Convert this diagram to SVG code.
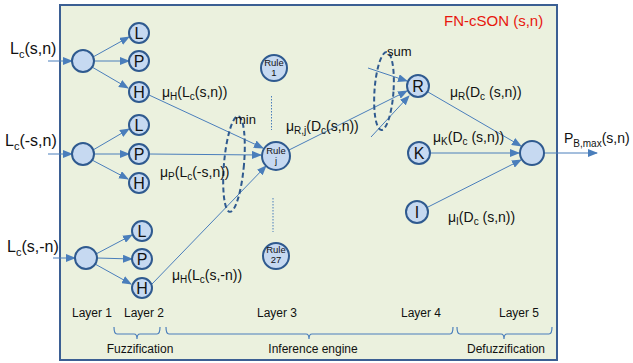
<svg xmlns="http://www.w3.org/2000/svg" width="633" height="363" viewBox="0 0 633 363">
<style>
text{font-family:"Liberation Sans",Arial,sans-serif;fill:#111}
.n{fill:#c6d9f1;stroke:#2f5a8f;stroke-width:2}
.e{stroke:#4a7ebb;stroke-width:1;fill:none}
.lbl{font-size:14px}
.in{font-size:16px}
.nl{font-size:16px;text-anchor:middle}
.rl{font-size:9.5px;text-anchor:middle}
.lay{font-size:12px}
.br{stroke:#4a7ebb;stroke-width:1.2;fill:none}
.el{fill:none;stroke:#2f5a8f;stroke-width:2;stroke-dasharray:5 3}
.dot{stroke:#4a7ebb;stroke-width:1;stroke-dasharray:1.5 1.5}
</style>
<defs>
<marker id="a" markerUnits="userSpaceOnUse" markerWidth="10" markerHeight="8" refX="9" refY="4" orient="auto">
<path d="M0,0 L10,4 L0,8 Z" fill="#4a7ebb"/>
</marker>
</defs>
<rect x="0" y="0" width="633" height="363" fill="#fff"/>
<rect id="box" x="60" y="5" width="497" height="355" fill="#ebf1de" stroke="#3b5f93" stroke-width="2"/>
<text x="444" y="26" font-size="15" style="fill:#e8170e">FN-cSON (s,n)</text>

<g id="connectors">
<line class="e" x1="48" y1="61" x2="72" y2="61" marker-end="url(#a)"/>
<line class="e" x1="48" y1="154" x2="72" y2="154" marker-end="url(#a)"/>
<line class="e" x1="53" y1="258" x2="75" y2="258" marker-end="url(#a)"/>
<line class="e" x1="93" y1="57" x2="129" y2="37" marker-end="url(#a)"/>
<line class="e" x1="94" y1="61" x2="129" y2="61" marker-end="url(#a)"/>
<line class="e" x1="92" y1="67" x2="128" y2="88" marker-end="url(#a)"/>
<line class="e" x1="93" y1="150" x2="129" y2="129" marker-end="url(#a)"/>
<line class="e" x1="94" y1="154" x2="129" y2="154" marker-end="url(#a)"/>
<line class="e" x1="92" y1="160" x2="128" y2="179" marker-end="url(#a)"/>
<line class="e" x1="96" y1="254" x2="132" y2="235" marker-end="url(#a)"/>
<line class="e" x1="97" y1="258" x2="132" y2="259" marker-end="url(#a)"/>
<line class="e" x1="95" y1="264" x2="131" y2="284" marker-end="url(#a)"/>
<line class="e" x1="149" y1="95" x2="263" y2="148" marker-end="url(#a)"/>
<line class="e" x1="149" y1="154" x2="261" y2="155" marker-end="url(#a)"/>
<line class="e" x1="152" y1="284" x2="266" y2="166" marker-end="url(#a)"/>
<line class="e" x1="289" y1="150" x2="407" y2="91" marker-end="url(#a)"/>
<line class="e" x1="368" y1="68" x2="407" y2="81" marker-end="url(#a)"/>
<line class="e" x1="371" y1="137" x2="409" y2="96" marker-end="url(#a)"/>
<line class="e" x1="428" y1="92" x2="521" y2="146" marker-end="url(#a)"/>
<line class="e" x1="430" y1="153" x2="519" y2="153" marker-end="url(#a)"/>
<line class="e" x1="428" y1="207" x2="521" y2="160" marker-end="url(#a)"/>
<line class="e" x1="544" y1="153" x2="597" y2="153" marker-end="url(#a)"/>
<line class="dot" x1="271.5" y1="96" x2="271.5" y2="130"/>
<line class="dot" x1="273" y1="198" x2="273" y2="232"/>
</g>

<g id="inputs">
<text class="in" x="10" y="54">L<tspan font-size="11" dy="4">c</tspan><tspan dy="-4">(s,n)</tspan></text>
<text class="in" x="5" y="146">L<tspan font-size="11" dy="4">c</tspan><tspan dy="-4">(-s,n)</tspan></text>
<text class="in" x="7" y="252">L<tspan font-size="11" dy="4">c</tspan><tspan dy="-4">(s,-n)</tspan></text>
</g>

<g id="layer1">
<circle class="n" cx="83" cy="61" r="11"/>
<circle class="n" cx="83" cy="154" r="11"/>
<circle class="n" cx="86" cy="258" r="11"/>
</g>

<g id="layer2">
<g id="L1"><circle class="n" cx="139" cy="33" r="10"/><text class="nl" x="139" y="39">L</text></g>
<g id="P1"><circle class="n" cx="139" cy="61" r="10"/><text class="nl" x="139" y="67">P</text></g>
<g id="H1"><circle class="n" cx="139" cy="92" r="10"/><text class="nl" x="139" y="98">H</text></g>
<g id="L2"><circle class="n" cx="139" cy="125" r="10"/><text class="nl" x="139" y="131">L</text></g>
<g id="P2"><circle class="n" cx="139" cy="154" r="10"/><text class="nl" x="139" y="160">P</text></g>
<g id="H2"><circle class="n" cx="139" cy="183" r="10"/><text class="nl" x="139" y="189">H</text></g>
<g id="L3"><circle class="n" cx="142" cy="231" r="10"/><text class="nl" x="142" y="237">L</text></g>
<g id="P3"><circle class="n" cx="142" cy="259" r="10"/><text class="nl" x="142" y="265">P</text></g>
<g id="H3"><circle class="n" cx="142" cy="288" r="10"/><text class="nl" x="142" y="294">H</text></g>
</g>

<g id="layer3">
<g id="rule1"><circle class="n" cx="274" cy="68" r="13"/><text class="rl" x="274" y="66">Rule</text><text class="rl" x="274" y="76">1</text></g>
<g id="rulej"><circle class="n" cx="276" cy="156" r="14"/><text class="rl" x="276" y="154">Rule</text><text class="rl" x="276" y="164">j</text></g>
<g id="rule27"><circle class="n" cx="276" cy="256" r="13"/><text class="rl" x="276" y="253">Rule</text><text class="rl" x="276" y="263">27</text></g>
</g>

<g id="layer4">
<g id="R"><circle class="n" cx="418" cy="86" r="11"/><text class="nl" x="418" y="92">R</text></g>
<g id="K"><circle class="n" cx="419" cy="153" r="11"/><text class="nl" x="419" y="159">K</text></g>
<g id="I"><circle class="n" cx="417" cy="212" r="11"/><text class="nl" x="417" y="218">I</text></g>
</g>

<g id="layer5">
<circle class="n" cx="532" cy="153" r="12"/>
<text x="564" y="143" font-size="14">P<tspan font-size="10" dy="4">B,max</tspan><tspan dy="-4">(s,n)</tspan></text>
</g>

<g id="operators">
<ellipse class="el" cx="234" cy="164" rx="10" ry="48" transform="rotate(5 234 164)"/>
<text x="235" y="124" font-size="13">min</text>
<ellipse class="el" cx="384" cy="91" rx="9.5" ry="39" transform="rotate(4 384 91)"/>
<text x="387" y="56" font-size="13">sum</text>
</g>

<g id="labels">
<text class="lbl" x="162" y="97">μ<tspan font-size="10" dy="3">H</tspan><tspan dy="-3">(L</tspan><tspan font-size="10" dy="3">c</tspan><tspan dy="-3">(s,n))</tspan></text>
<text class="lbl" x="160" y="177">μ<tspan font-size="10" dy="3">P</tspan><tspan dy="-3">(L</tspan><tspan font-size="10" dy="3">c</tspan><tspan dy="-3">(-s,n))</tspan></text>
<text class="lbl" x="172" y="280">μ<tspan font-size="10" dy="3">H</tspan><tspan dy="-3">(L</tspan><tspan font-size="10" dy="3">c</tspan><tspan dy="-3">(s,-n))</tspan></text>
<text class="lbl" x="286" y="131">μ<tspan font-size="10" dy="3">R,j</tspan><tspan dy="-3">(D</tspan><tspan font-size="10" dy="3">c</tspan><tspan dy="-3">(s,n))</tspan></text>
<text class="lbl" x="450" y="97">μ<tspan font-size="10" dy="3">R</tspan><tspan dy="-3">(D</tspan><tspan font-size="10" dy="3">c</tspan><tspan dy="-3"> (s,n))</tspan></text>
<text class="lbl" x="433" y="142">μ<tspan font-size="10" dy="3">K</tspan><tspan dy="-3">(D</tspan><tspan font-size="10" dy="3">c</tspan><tspan dy="-3"> (s,n))</tspan></text>
<text class="lbl" x="448" y="222">μ<tspan font-size="10" dy="3">I</tspan><tspan dy="-3">(D</tspan><tspan font-size="10" dy="3">c</tspan><tspan dy="-3"> (s,n))</tspan></text>
</g>

<g id="layers">
<text class="lay" x="72" y="317">Layer 1</text>
<text class="lay" x="124" y="317">Layer 2</text>
<text class="lay" x="257" y="317">Layer 3</text>
<text class="lay" x="401" y="317">Layer 4</text>
<text class="lay" x="499" y="317">Layer 5</text>
</g>

<g id="braces">
<path class="br" d="M114,327 Q114,334 117,334 L134,334 Q137,334 137,339 Q137,334 140,334 L157,334 Q160,334 160,327"/>
<path class="br" d="M166,327 Q166,334 169,334 L306,334 Q309,334 309,339 Q309,334 312,334 L450,334 Q453,334 453,327"/>
<path class="br" d="M457,327 Q457,334 460,334 L501,334 Q504,334 504,339 Q504,334 507,334 L549,334 Q552,334 552,327"/>
<text class="lay" x="140" y="353" text-anchor="middle">Fuzzification</text>
<text class="lay" x="313" y="353" text-anchor="middle">Inference engine</text>
<text class="lay" x="506" y="353" text-anchor="middle">Defuzzification</text>
</g>
</svg>
